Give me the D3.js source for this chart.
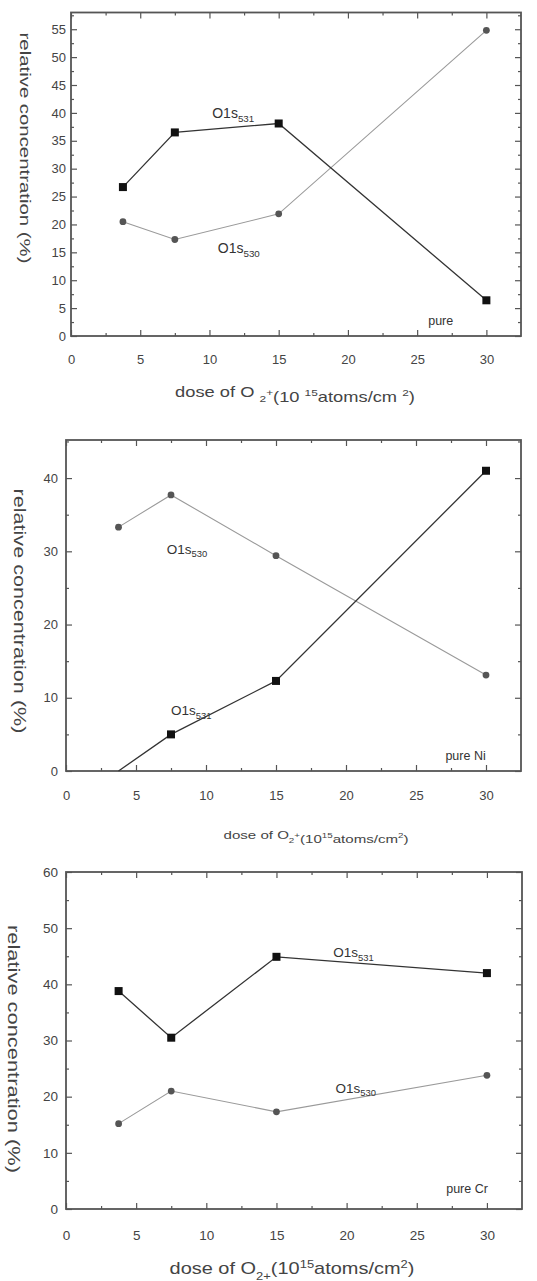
<!DOCTYPE html>
<html><head><meta charset="utf-8">
<script src="https://cdn.jsdelivr.net/npm/d3@7"></script>
<style>
body{margin:0;background:#fff;}
svg{display:block;font-family:"Liberation Sans",Arial,sans-serif;}
</style></head>
<body><svg id="chart" width="537" height="1281"></svg>
<script>
// ---- data ----
const doses = [3.75, 7.5, 15, 30];
const xTicks = [0, 5, 10, 15, 20, 25, 30];
const pureA_O1s531 = [26.7, 36.5, 38.1, 6.4];
const pureA_O1s530 = [20.5, 17.3, 21.9, 54.8];
const pureNi_O1s531 = [0, 5.0, 12.3, 41.0];
const pureNi_O1s530 = [33.3, 37.7, 29.4, 13.1];
const pureCr_O1s531 = [38.8, 30.5, 44.9, 42.0];
const pureCr_O1s530 = [15.2, 21.0, 17.3, 23.8];
const yTicksA = [0, 5, 10, 15, 20, 25, 30, 35, 40, 45, 50, 55];
const yTicksNi = [0, 10, 20, 30, 40];
const yTicksCr = [0, 10, 20, 30, 40, 50, 60];
const sampleLabels = ["pure", "pure Ni", "pure Cr"];
const yTitle = "relative concentration (%)";

const svg = d3.select("#chart");

// stretch a text element horizontally (in its own frame) around its anchor
function stretch(sel, cx, cy, target, rot) {
  const w = sel.node().getBBox().width;
  const k = target / w;
  sel.attr("transform", `translate(${cx},${cy}) ${rot ? "rotate(90) " : ""}scale(${k},1)`);
}

function drawPanel(p) {
  const x = d3.scaleLinear().domain([0, 32.5]).range([p.left, p.right]);
  const y = d3.scaleLinear().domain([0, p.ymax]).range([p.bottom, p.top]);
  const g = svg.append("g");
  const axisCol = "#555";
  const styleLines = s => { s.select(".domain").remove(); s.selectAll("line").attr("stroke", axisCol).attr("stroke-width", 1.2); };

  const xMinor = d3.range(2.5, 32.5, 5);
  const yMinor = d3.range(p.yStep / 2, p.ymax, p.yStep);

  // bottom axis
  g.append("g").attr("transform", `translate(0,${p.bottom})`)
    .call(d3.axisBottom(x).tickValues(xTicks).tickSize(-p.tick).tickPadding(p.xPad).tickSizeOuter(0))
    .call(styleLines)
    .call(s => s.selectAll("text").attr("font-size", p.tickFont).attr("fill", "#444").attr("font-family", "Liberation Sans"));
  g.append("g").attr("transform", `translate(0,${p.bottom})`)
    .call(d3.axisBottom(x).tickValues(xMinor).tickSize(-p.tick / 2).tickFormat("").tickSizeOuter(0)).call(styleLines);
  // top axis (ticks only)
  g.append("g").attr("transform", `translate(0,${p.top})`)
    .call(d3.axisTop(x).tickValues(xTicks).tickSize(-p.tick).tickFormat("").tickSizeOuter(0)).call(styleLines);
  g.append("g").attr("transform", `translate(0,${p.top})`)
    .call(d3.axisTop(x).tickValues(xMinor).tickSize(-p.tick / 2).tickFormat("").tickSizeOuter(0)).call(styleLines);
  // left axis
  g.append("g").attr("transform", `translate(${p.left},0)`)
    .call(d3.axisLeft(y).tickValues(p.yTicks).tickSize(-p.tick).tickPadding(p.yPad).tickSizeOuter(0))
    .call(styleLines)
    .call(s => s.selectAll("text").attr("font-size", p.tickFont).attr("fill", "#444").attr("font-family", "Liberation Sans"));
  g.append("g").attr("transform", `translate(${p.left},0)`)
    .call(d3.axisLeft(y).tickValues(yMinor).tickSize(-p.tick / 2).tickFormat("").tickSizeOuter(0)).call(styleLines);
  // right axis
  g.append("g").attr("transform", `translate(${p.right},0)`)
    .call(d3.axisRight(y).tickValues(p.yTicks).tickSize(-p.tick).tickFormat("").tickSizeOuter(0)).call(styleLines);
  g.append("g").attr("transform", `translate(${p.right},0)`)
    .call(d3.axisRight(y).tickValues(yMinor).tickSize(-p.tick / 2).tickFormat("").tickSizeOuter(0)).call(styleLines);

  // frame
  g.append("rect").attr("x", p.left).attr("y", p.top)
    .attr("width", p.right - p.left).attr("height", p.bottom - p.top)
    .attr("fill", "none").attr("stroke", axisCol).attr("stroke-width", 1.8);

  const line = d3.line().x((d, i) => x(doses[i])).y(d => y(d));
  g.append("path").datum(p.s530).attr("d", line).attr("fill", "none")
    .attr("stroke", "#9a9a9a").attr("stroke-width", 1.1);
  g.append("path").datum(p.s531).attr("d", line).attr("fill", "none")
    .attr("stroke", "#333").attr("stroke-width", 1.3);
  g.selectAll("circle.m530").data(p.s530).join("circle")
    .attr("cx", (d, i) => x(doses[i])).attr("cy", d => y(d)).attr("r", 3.4).attr("fill", "#555");
  g.selectAll("rect.m531").data(p.s531.map((v, i) => [doses[i], v]).filter(d => d[1] > 0)).join("rect")
    .attr("x", d => x(d[0]) - 4).attr("y", d => y(d[1]) - 4)
    .attr("width", 8).attr("height", 8).attr("fill", "#111");

  function seriesLabel(pos, sub) {
    const t = g.append("text").attr("x", x(pos[0])).attr("y", y(pos[1]))
      .attr("font-size", p.labFont).attr("fill", "#333");
    t.append("tspan").text("O1s");
    t.append("tspan").attr("font-size", p.labFont * 0.7).attr("dy", 3.5).text(sub);
  }
  seriesLabel(p.lab531, "531");
  seriesLabel(p.lab530, "530");
  g.append("text").attr("x", x(p.labPure[0])).attr("y", y(p.labPure[1]))
    .attr("font-size", p.pureFont).attr("fill", "#333").text(p.sample);

  // y title
  const yt = g.append("text").attr("text-anchor", "middle").attr("font-size", p.yTitleFont)
    .attr("fill", "#444").text(yTitle);
  stretch(yt, p.yTitleX, p.yTitleY, p.yTitleLen, true);

  // x title
  const xt = g.append("text").attr("text-anchor", "middle").attr("font-size", p.xTitleFont).attr("fill", "#444");
  const f = p.xTitleFont, sm = f * 0.65;
  p.xTitleParts.forEach(part => {
    const ts = xt.append("tspan").text(part[0]);
    if (part[1] === "sub") ts.attr("font-size", sm).attr("dy", f * 0.35);
    else if (part[1] === "sup") ts.attr("font-size", sm).attr("dy", -f * 0.4);
    else if (part[1] === "up") ts.attr("dy", -f * 0.35);
    else if (part[1] === "down") ts.attr("dy", f * 0.4);
  });
  stretch(xt, p.xTitleX, p.xTitleY, p.xTitleLen, false);
}

drawPanel({
  left: 71, right: 521, top: 12.5, bottom: 336, ymax: 58, yStep: 5, yTicks: yTicksA,
  s531: pureA_O1s531, s530: pureA_O1s530, tick: 6, tickFont: 13, xPad: 19, yPad: 5,
  lab531: [10.2, 39], lab530: [10.6, 14.8], labPure: [25.8, 2.0], labFont: 14, pureFont: 12.5,
  sample: sampleLabels[0],
  yTitleX: 20, yTitleY: 148, yTitleFont: 14, yTitleLen: 231,
  xTitleX: 295, xTitleY: 397, xTitleFont: 14, xTitleLen: 240,
  xTitleParts: [["dose of O "], ["2", "sub"], ["+", "sup"], ["(10 ", "down"], ["15", "sup"], ["atoms/cm ", "down"], ["2", "sup"], [")", "down"]]
});
drawPanel({
  left: 66, right: 521, top: 440, bottom: 771, ymax: 45.2, yStep: 10, yTicks: yTicksNi,
  s531: pureNi_O1s531, s530: pureNi_O1s530, tick: 6, tickFont: 13, xPad: 20, yPad: 8,
  lab531: [7.5, 7.6], lab530: [7.2, 29.7], labPure: [27.1, 1.5], labFont: 13.5, pureFont: 12.5,
  sample: sampleLabels[1],
  yTitleX: 14, yTitleY: 611, yTitleFont: 17, yTitleLen: 245,
  xTitleX: 316, xTitleY: 839, xTitleFont: 11, xTitleLen: 185,
  xTitleParts: [["dose of O"], ["2", "sub"], ["+", "sup"], ["(10", "down"], ["15", "sup"], ["atoms/cm", "down"], ["2", "sup"], [")", "down"]]
});
drawPanel({
  left: 66, right: 522, top: 872, bottom: 1209, ymax: 60, yStep: 10, yTicks: yTicksCr,
  s531: pureCr_O1s531, s530: pureCr_O1s530, tick: 6, tickFont: 13.5, xPad: 21, yPad: 8,
  lab531: [19.05, 44.8], lab530: [19.2, 20.7], labPure: [27.1, 2.9], labFont: 13.5, pureFont: 12.5,
  sample: sampleLabels[2],
  yTitleX: 8, yTitleY: 1049, yTitleFont: 16, yTitleLen: 248,
  xTitleX: 292, xTitleY: 1274, xTitleFont: 16, xTitleLen: 245,
  xTitleParts: [["dose of O"], ["2+", "sub"], ["(10", "up"], ["15", "sup"], ["atoms/cm", "down"], ["2", "sup"], [")", "down"]]
});
</script></body></html>
